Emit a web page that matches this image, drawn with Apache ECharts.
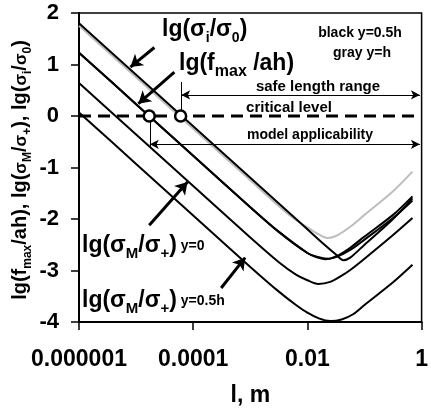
<!DOCTYPE html>
<html><head><meta charset="utf-8">
<script src="https://cdn.jsdelivr.net/npm/echarts@6/dist/echarts.min.js"></script>
<style>html,body{margin:0;padding:0;background:#fff}#c{width:431px;height:412px}</style>
</head><body><div id="c"></div>
<script>
// x values are lg(l), l in metres
const xTickLabels = ['0.000001', '0.0001', '0.01', '1'];
const grayX  = [-6, -5, -4, -3, -2.5, -2.2, -2, -1.8, -1.65, -1.5, -1.25, -1, -0.5, -0.16];
const grayY  = [1.75, 0.75, -0.25, -1.25, -1.75, -2.02, -2.16, -2.3, -2.37, -2.33, -2.15, -1.92, -1.46, -1.08];
const sigIX  = [-6, -5, -4, -3, -2, -1.7, -1.5, -1.37, -1.25, -1, -0.5, -0.16];
const sigIY  = [1.8, 0.8, -0.2, -1.2, -2.2, -2.5, -2.69, -2.8, -2.75, -2.5, -2.0, -1.6];
const fmaxX  = [-6, -5, -4, -3, -2.5, -2, -1.85, -1.69, -1.5, -1.25, -1, -0.5, -0.16];
const fmaxY  = [1.23, 0.23, -0.77, -1.77, -2.25, -2.66, -2.74, -2.78, -2.74, -2.6, -2.4, -1.98, -1.64];
const fmax2X = [-6, -5, -4, -3, -2.5, -2, -1.8, -1.62, -1.45, -1.25, -1, -0.5, -0.16];
const fmax2Y = [1.23, 0.23, -0.77, -1.77, -2.25, -2.66, -2.74, -2.77, -2.7, -2.56, -2.34, -1.92, -1.56];
const sm0X   = [-6, -5, -4, -3, -2.5, -2.2, -2, -1.81, -1.6, -1.4, -1.25, -1, -0.5, -0.16];
const sm0Y   = [0.64, -0.36, -1.36, -2.36, -2.84, -3.08, -3.19, -3.26, -3.22, -3.1, -2.99, -2.77, -2.31, -1.98];
const sm05X  = [-6, -5, -4, -3, -2.5, -2.2, -2, -1.8, -1.6, -1.4, -1.2, -1, -0.5, -0.16];
const sm05Y  = [0.07, -0.93, -1.93, -2.93, -3.41, -3.67, -3.82, -3.93, -3.98, -3.95, -3.85, -3.67, -3.23, -2.89];
const criticalX = [-6, 0];
const criticalY = [0, 0];
const circleX = [-4.77, -4.22];
const circleY = [0, 0];

const pair = (xs, ys) => xs.map((x, i) => [x, ys[i]]);
const chart = echarts.init(document.getElementById('c'), null, {renderer: 'canvas'});
const F = 'Liberation Sans, Arial, sans-serif';
const curve = (name, xs, ys, color) => ({
  name, type: 'line', data: pair(xs, ys), showSymbol: false, smooth: 0.3,
  lineStyle: {color, width: 2}, silent: true, z: color === '#000' ? 3 : 2
});
const mlBase = {silent: true, animation: false, label: {show: false}, emphasis: {disabled: true}};
const subRich = (size, sub) => ({
  m: {fontFamily: F, fontWeight: 'bold', fontSize: size, lineHeight: size + 4, verticalAlign: 'top', color: '#000'},
  s: {fontFamily: F, fontWeight: 'bold', fontSize: sub, lineHeight: 10, verticalAlign: 'bottom', color: '#000'},
  y: {fontFamily: F, fontWeight: 'bold', fontSize: 14, lineHeight: size + 4, verticalAlign: 'top', padding: [5, 0, 0, 0], color: '#000'}
});
const txt = (x, y, text, size, align) => ({
  type: 'text', x, y, silent: true, z: 20,
  style: {text, fill: '#000', font: 'bold ' + size + 'px ' + F, textAlign: align || 'left', textVerticalAlign: 'middle'}
});
const richTxt = (x, y, text, size, sub) => ({
  type: 'text', x, y, silent: true, z: 20,
  style: {text, rich: subRich(size, sub), textVerticalAlign: 'middle', textAlign: 'left'}
});

chart.setOption({
  animation: false,
  grid: {left: 79, right: 7, top: 13, bottom: 86, show: true, borderColor: '#000', borderWidth: 1.5, backgroundColor: 'transparent'},
  xAxis: {
    type: 'value', min: -6, max: 0, interval: 2,
    name: 'l, m', nameLocation: 'middle', nameGap: 62,
    nameTextStyle: {fontFamily: F, fontWeight: 'bold', fontSize: 23, color: '#000'},
    axisLine: {onZero: false, lineStyle: {color: '#000', width: 2}},
    axisTick: {inside: false, length: 8, lineStyle: {color: '#000', width: 1.5}},
    axisLabel: {margin: 26, fontFamily: F, fontWeight: 'bold', fontSize: 23, color: '#000',
      formatter: v => xTickLabels[Math.round((v + 6) / 2)]},
    splitLine: {show: false}
  },
  yAxis: {
    type: 'value', min: -4, max: 2, interval: 1,
    axisLine: {show: true, onZero: false, lineStyle: {color: '#000', width: 2}},
    axisTick: {show: true, inside: false, length: 8, lineStyle: {color: '#000', width: 1.5}},
    axisLabel: {margin: 20, fontFamily: F, fontWeight: 'bold', fontSize: 22, color: '#000'},
    splitLine: {show: false}
  },
  series: [
    curve('gray', grayX, grayY, '#bdbdbd'),
    curve('sigI', sigIX, sigIY, '#000'),
    curve('fmax', fmaxX, fmaxY, '#000'),
    curve('fmax2', fmax2X, fmax2Y, '#000'),
    curve('sm0', sm0X, sm0Y, '#000'),
    curve('sm05', sm05X, sm05Y, '#000'),
    {name: 'critical', type: 'line', data: pair(criticalX, criticalY), showSymbol: false, silent: true, z: 4,
      lineStyle: {color: '#000', width: 3, type: [12, 7]}},
    {type: 'line', data: [], z: 5, markLine: Object.assign({}, mlBase, {
      symbol: ['none', 'none'],
      lineStyle: {color: '#000', width: 1, type: 'solid'},
      data: [
        [{coord: [-4.21, 0]}, {coord: [-4.21, 0.66]}],
        [{coord: [-4.76, 0]}, {coord: [-4.76, -0.6]}]
      ]
    })},
    {type: 'line', data: [], z: 5, markLine: Object.assign({}, mlBase, {
      symbol: ['arrow', 'arrow'], symbolSize: [7, 9],
      lineStyle: {color: '#000', width: 1, type: 'solid'},
      data: [
        [{coord: [-4.21, 0.41]}, {coord: [-0.03, 0.41]}],
        [{coord: [-4.76, -0.55]}, {coord: [-0.03, -0.55]}]
      ]
    })},
    {type: 'line', data: [], z: 6, markLine: Object.assign({}, mlBase, {
      symbol: ['none', 'arrow'], symbolSize: [11, 12],
      lineStyle: {color: '#000', width: 3, type: 'solid'},
      data: [
        [{coord: [-4.68, 1.33]}, {coord: [-5.1, 0.95]}],
        [{coord: [-4.33, 0.85]}, {coord: [-4.96, 0.24]}],
        [{coord: [-4.77, -2.12]}, {coord: [-4.1, -1.28]}],
        [{coord: [-3.51, -3.34]}, {coord: [-3.09, -2.75]}]
      ]
    })},
    {type: 'scatter', data: pair(circleX, circleY), symbol: 'circle', symbolSize: 11, z: 10, silent: true,
      itemStyle: {color: '#fff', borderColor: '#000', borderWidth: 2.5, opacity: 1}}
  ],
  graphic: [
    {type: 'text', x: 22, y: 170, rotation: Math.PI / 2, silent: true,
      style: {text: '{a|lg(f}{s|max}{a|/ah), lg(}{g|σ}{s|M}{a|/}{g|σ}{s|+}{a|), lg(}{g|σ}{s|i}{a|/}{g|σ}{s|0}{a|)}',
        textAlign: 'center', textVerticalAlign: 'middle',
        rich: {
          a: {fontFamily: F, fontWeight: 'bold', fontSize: 20, lineHeight: 24, verticalAlign: 'top', color: '#000'},
          g: {fontFamily: F, fontWeight: 'bold', fontSize: 17, lineHeight: 24, verticalAlign: 'top', padding: [3, 0, 0, 0], color: '#000'},
          s: {fontFamily: F, fontWeight: 'bold', fontSize: 12, lineHeight: 10, verticalAlign: 'bottom', color: '#000'}
        }}},
    richTxt(162, 32, '{m|lg(σ}{s|i}{m|/σ}{s|0}{m|)}', 23, 14),
    richTxt(179, 66, '{m|lg(f}{s|max}{m| /ah)}', 23, 16),
    richTxt(82, 248, '{m|lg(σ}{s|M}{m|/σ}{s|+}{m|)}{y| y=0}', 23, 15),
    richTxt(82, 303, '{m|lg(σ}{s|M}{m|/σ}{s|+}{m|)}{y| y=0.5h}', 23, 15),
    txt(360, 33, 'black y=0.5h', 14, 'center'),
    txt(362, 53, 'gray y=h', 14, 'center'),
    txt(318, 87, 'safe length range', 15, 'center'),
    txt(289, 108, 'critical level', 15, 'center'),
    txt(310, 135, 'model applicability', 14, 'center')
  ]
});
</script></body></html>
